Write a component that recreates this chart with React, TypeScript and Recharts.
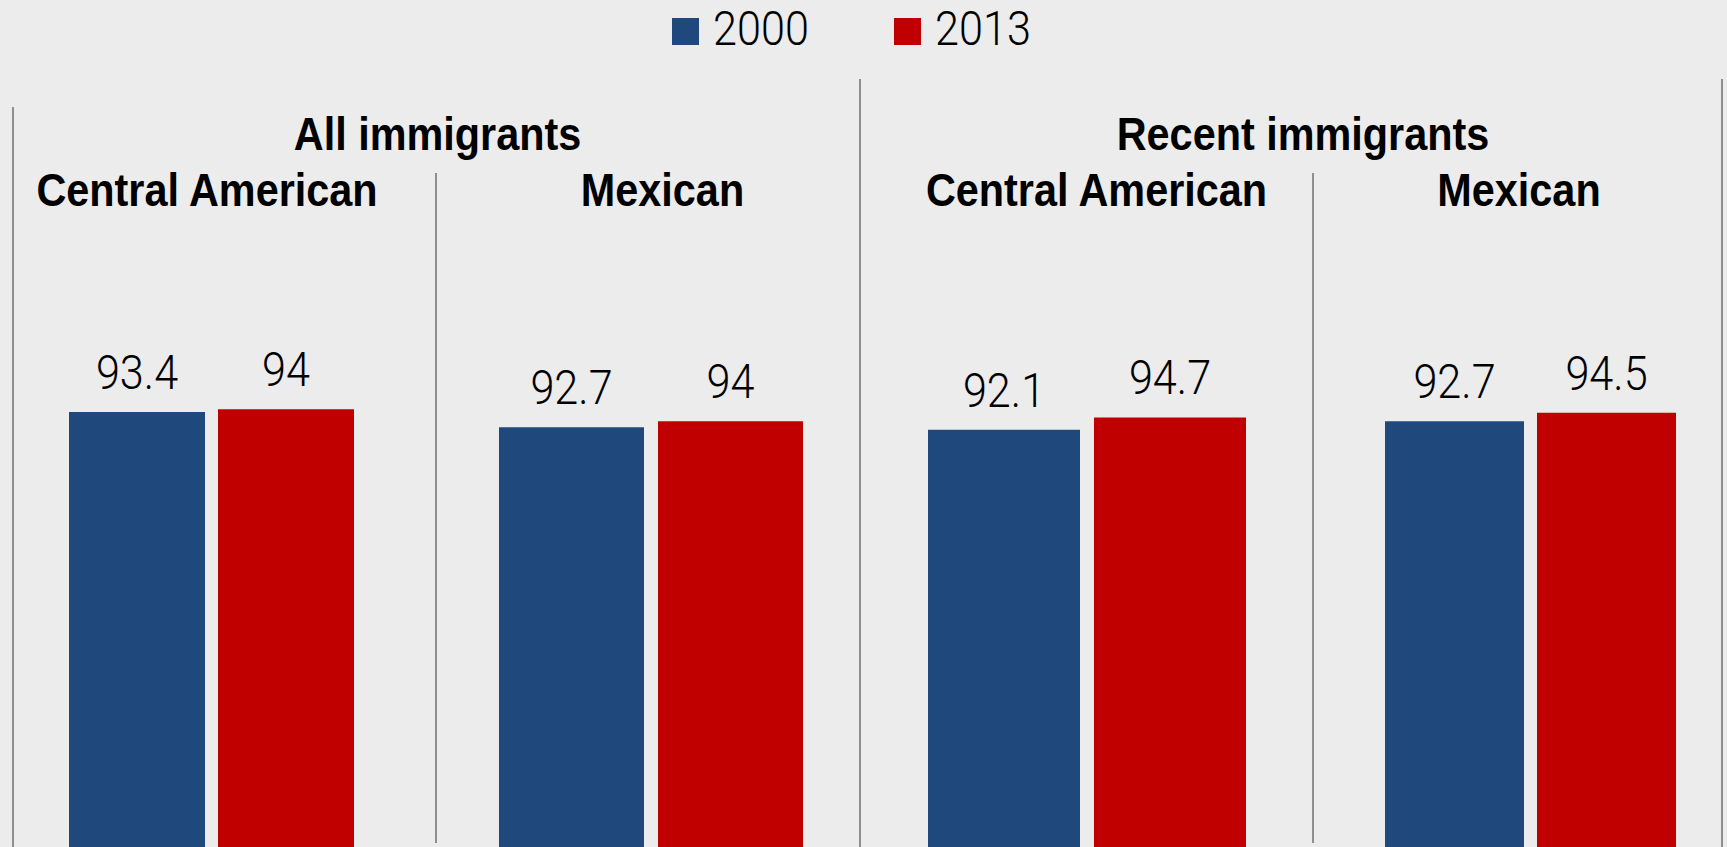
import { BarChart, Bar, XAxis, YAxis, LabelList, Legend } from "recharts";

const groups = ["All immigrants", "Recent immigrants"];
const categories = ["Central American", "Mexican", "Central American", "Mexican"];
const years = ["2000", "2013"];
const values2000 = [93.4, 92.7, 92.1, 92.7];
const values2013 = [94, 94, 94.7, 94.5];

const COLORS = ["#1f497d", "#c00000"];
const FONT = "'Liberation Sans', Arial, sans-serif";
const NUM_FONT = "Roboto, 'Liberation Sans', sans-serif";
const BG = "#ececec";
const SEP = "#8f8f8f";
// no narrow font installed, so squeeze the regular one horizontally
const SQUEEZE = 0.9;

const panels = [
  { center: 211.5, barSize: 136, gap: 13, top: 381, head: 207 },
  { center: 651, barSize: 145, gap: 14, top: 393, head: 662.5 },
  { center: 1087, barSize: 152, gap: 14, top: 392.5, head: 1096.5 },
  { center: 1530.5, barSize: 139, gap: 13, top: 387, head: 1519 },
];
const groupCenters = [437.5, 1303];
const PLOT_H = 470;
const CHART_H = 900;

function NarrowText({
  x,
  y,
  anchor = "middle",
  size,
  bold,
  light,
  children,
}: {
  x: number;
  y: number;
  anchor?: "start" | "middle" | "end";
  size: number;
  bold?: boolean;
  light?: boolean;
  children: React.ReactNode;
}) {
  return (
    <text
      transform={`translate(${x},${y}) scale(${SQUEEZE},1)`}
      textAnchor={anchor}
      fontSize={size}
      fontWeight={bold ? 700 : light ? 300 : 400}
      fontFamily={light ? NUM_FONT : FONT}
      fill="#000"
    >
      {children}
    </text>
  );
}

const renderLegend = () => (
  <svg width={420} height={60} style={{ display: "block" }}>
    {years.map((y, i) => (
      <g key={y} transform={`translate(${i * 222},0)`}>
        <rect x={0} y={18} width={27} height={27} fill={COLORS[i]} />
        <NarrowText x={41} y={45} anchor="start" size={48} light>
          {y}
        </NarrowText>
      </g>
    ))}
  </svg>
);

const renderValue = (props: any) => {
  const { x, y, width, value } = props;
  return (
    <NarrowText x={Number(x) + Number(width) / 2} y={Number(y) - 23} size={48} light>
      {value}
    </NarrowText>
  );
};

function Panel({ idx }: { idx: number }) {
  const p = panels[idx];
  const width = 2 * p.barSize + p.gap + 20;
  const left = p.center - width / 2;
  const data = [{ name: categories[idx], y2000: values2000[idx], y2013: values2013[idx] }];
  return (
    <div style={{ position: "absolute", left, top: 0 }}>
      <BarChart
        width={width}
        height={CHART_H}
        data={data}
        barGap={p.gap}
        barSize={p.barSize}
        margin={{ top: p.top, right: 0, bottom: CHART_H - p.top - PLOT_H, left: 0 }}
      >
        <XAxis dataKey="name" hide />
        <YAxis domain={[0, 100]} hide />
        {idx === 0 && (
          <Legend
            layout="horizontal"
            verticalAlign="middle"
            align="center"
            content={renderLegend}
            wrapperStyle={{ top: 0, left: 672 - left, width: 420, height: 60 }}
          />
        )}
        {["y2000", "y2013"].map((k, i) => (
          <Bar key={k} dataKey={k} name={years[i]} fill={COLORS[i]} isAnimationActive={false}>
            <LabelList dataKey={k} position="top" content={renderValue} />
          </Bar>
        ))}
      </BarChart>
    </div>
  );
}

export default function App() {
  return (
    <div
      style={{
        position: "fixed",
        left: 0,
        top: 0,
        width: 1727,
        height: 847,
        overflow: "hidden",
        background: BG,
      }}
    >
      <svg width={1727} height={847} style={{ position: "absolute", left: 0, top: 0 }}>
        <line x1={13} x2={13} y1={107} y2={847} stroke={SEP} strokeWidth={2} />
        <line x1={860} x2={860} y1={79} y2={847} stroke={SEP} strokeWidth={2} />
        <line x1={1722} x2={1722} y1={79} y2={847} stroke={SEP} strokeWidth={2} />
        <line x1={436} x2={436} y1={173} y2={843} stroke={SEP} strokeWidth={2} />
        <line x1={1313} x2={1313} y1={173} y2={843} stroke={SEP} strokeWidth={2} />
        {groups.map((g, i) => (
          <NarrowText key={g} x={groupCenters[i]} y={150} size={46} bold>
            {g}
          </NarrowText>
        ))}
        {categories.map((c, i) => (
          <NarrowText key={i} x={panels[i].head} y={206} size={46} bold>
            {c}
          </NarrowText>
        ))}
      </svg>
      {panels.map((_, i) => (
        <Panel key={i} idx={i} />
      ))}
    </div>
  );
}
